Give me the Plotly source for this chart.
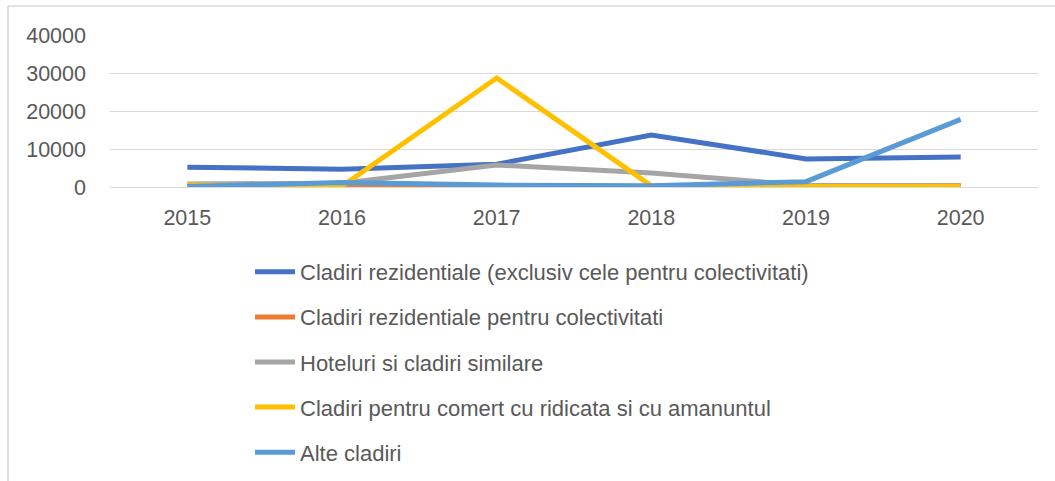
import plotly.graph_objects as go

years = ["2015", "2016", "2017", "2018", "2019", "2020"]

rezidentiale = [5200, 4700, 6000, 13700, 7400, 7900]
colectivitati = [300, 100, 200, 150, 100, 400]
hoteluri = [800, 1000, 5800, 3700, 400, 400]
comert = [500, 200, 28700, 300, 100, 200]
alte = [100, 1200, 500, 300, 1400, 17800]

series = [
    ("Cladiri rezidentiale (exclusiv cele pentru colectivitati)", rezidentiale, "#4472C4"),
    ("Cladiri rezidentiale pentru colectivitati", colectivitati, "#ED7D31"),
    ("Hoteluri si cladiri similare", hoteluri, "#A5A5A5"),
    ("Cladiri pentru comert cu ridicata si cu amanuntul", comert, "#FFC000"),
    ("Alte cladiri", alte, "#5B9BD5"),
]

fig = go.Figure()
for i, (name, vals, color) in enumerate(series):
    fig.add_trace(go.Scatter(
        x=years, y=vals, name=name, mode="lines",
        line=dict(color=color, width=5),
        legendgroup=f"g{i}",
    ))

font = dict(family="Liberation Sans, Arial, sans-serif", size=21.5, color="#595959")
legend_font = dict(family="Liberation Sans, Arial, sans-serif", size=22, color="#595959")

W, H = 1055, 481
ML, MR, MT, MB = 110, 17, 35, 0
PH = H - MT - MB
PW = W - ML - MR
axis_bottom_px = 187

def px_y(py):
    return (H - MB - py) / PH

def px_x(px):
    return (px - ML) / PW

fig.update_layout(
    width=W, height=H,
    margin=dict(l=ML, r=MR, t=MT, b=MB, autoexpand=False),
    paper_bgcolor="white", plot_bgcolor="white",
    font=font,
    showlegend=True,
    legend=dict(
        orientation="v", x=px_x(250), xanchor="left", y=px_y(473), yanchor="bottom",
        tracegroupgap=13.5, font=legend_font, bgcolor="rgba(0,0,0,0)",
        itemwidth=40,
    ),
    xaxis=dict(
        type="category", showgrid=False, showline=False, zeroline=False,
        ticks="", tickfont=font, range=[-0.5, 5.5], ticklabelstandoff=15,
        automargin=False,
    ),
    yaxis=dict(
        domain=[px_y(axis_bottom_px), 1],
        range=[0, 40000], tickvals=[0, 10000, 20000, 30000, 40000],
        tickformat="d", showgrid=True, gridcolor="#D9D9D9", gridwidth=1,
        zeroline=True, zerolinecolor="#D9D9D9", zerolinewidth=1,
        showline=False, ticks="", tickfont=font, ticklabelstandoff=23,
        automargin=False,
    ),
    shapes=[
        dict(type="line", xref="paper", yref="paper",
             x0=px_x(8), x1=px_x(1055), y0=px_y(6), y1=px_y(6),
             line=dict(color="#D9D9D9", width=1.5)),
        dict(type="line", xref="paper", yref="paper",
             x0=px_x(8), x1=px_x(8), y0=px_y(6), y1=px_y(481),
             line=dict(color="#D9D9D9", width=1.5)),
    ],
)

fig.write_html("out.html")
